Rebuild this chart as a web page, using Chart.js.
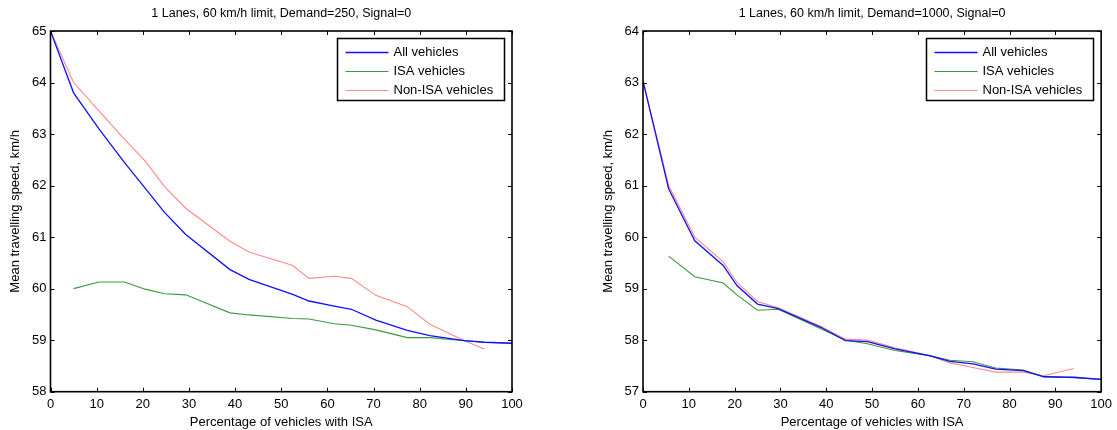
<!DOCTYPE html>
<html>
<head>
<meta charset="utf-8">
<script src="https://cdn.jsdelivr.net/npm/chart.js@4.4.1/dist/chart.umd.min.js"></script>
<style>
  body { margin: 0; background: #fff; }
  #wrap { position: relative; width: 1117px; height: 430px; }
  canvas { position: absolute; top: 0; }
</style>
</head>
<body>
<div id="wrap">
  <canvas id="chartLow" width="558" height="430" style="left:0"></canvas>
  <canvas id="chartHigh" width="559" height="430" style="left:558px"></canvas>
</div>
<script>
// Demand = 250 veh/h
const pctLow = [0, 5, 10.5, 16, 20.5, 24.7, 29.3, 38.9, 43, 52.5, 56, 61.5, 65.2, 70.5, 77.3, 82.2, 89.7, 94, 100];
const allLow = [65, 63.8, 63.1, 62.45, 61.95, 61.48, 61.05, 60.37, 60.18, 59.89, 59.76, 59.66, 59.6, 59.39, 59.19, 59.09, 58.99, 58.96, 58.94];
const isaLow = [null, 60.0, 60.13, 60.13, 59.99, 59.9, 59.88, 59.53, 59.49, 59.42, 59.41, 59.32, 59.29, 59.2, 59.05, 59.05, 58.99, 58.96, 58.94];
const nonIsaLow = [65, 64.0, 63.45, 62.9, 62.48, 61.98, 61.56, 60.92, 60.71, 60.45, 60.2, 60.24, 60.2, 59.87, 59.65, 59.31, 58.99, 58.83, null];

// Demand = 1000 veh/h
const pctHigh = [0, 5.6, 11.3, 17.5, 20.5, 25, 29.5, 38.8, 44.2, 49, 55, 62.5, 67, 72, 77, 83, 87.5, 94, 100];
const allHigh = [63.03, 60.94, 59.93, 59.45, 59.06, 58.7, 58.61, 58.25, 57.99, 57.97, 57.83, 57.7, 57.59, 57.54, 57.44, 57.41, 57.29, 57.28, 57.24];
const isaHigh = [null, 59.63, 59.23, 59.11, 58.88, 58.58, 58.6, 58.22, 58.0, 57.93, 57.8, 57.7, 57.61, 57.58, 57.46, 57.42, 57.29, 57.27, 57.24];
const nonIsaHigh = [63.03, 61.0, 60.0, 59.52, 59.12, 58.75, 58.63, 58.27, 58.02, 58.0, 57.85, 57.7, 57.56, 57.47, 57.38, 57.38, 57.31, 57.45, null];

const xTicks = [0, 10, 20, 30, 40, 50, 60, 70, 80, 90, 100];

const FONT = 'Arial, "Liberation Sans", sans-serif';

function toPoints(xs, ys) {
    return xs.map((x, i) => ({ x: x, y: ys[i] })).filter(p => p.y !== null);
}

// box round the plot area with inward ticks on all four sides
const frameTicks = {
    id: 'frameTicks',
    afterDatasetsDraw(chart) {
        const { ctx, chartArea: a, scales: { x, y } } = chart;
        const len = 4;
        ctx.save();
        ctx.strokeStyle = '#000';
        ctx.lineWidth = 1;
        ctx.beginPath();
        x.ticks.forEach(t => {
            const px = Math.round(x.getPixelForValue(t.value)) + 0.5;
            ctx.moveTo(px, a.bottom); ctx.lineTo(px, a.bottom - len);
            ctx.moveTo(px, a.top); ctx.lineTo(px, a.top + len);
        });
        y.ticks.forEach(t => {
            const py = Math.round(y.getPixelForValue(t.value)) + 0.5;
            ctx.moveTo(a.left, py); ctx.lineTo(a.left + len, py);
            ctx.moveTo(a.right, py); ctx.lineTo(a.right - len, py);
        });
        ctx.stroke();
        ctx.lineWidth = 1.6;
        ctx.strokeRect(a.left, a.top, a.right - a.left, a.bottom - a.top);
        ctx.restore();
    }
};

// legend in a box at the top right corner of the plot
const boxLegend = {
    id: 'boxLegend',
    afterDraw(chart) {
        const { ctx, chartArea: a } = chart;
        const w = 167, h = 62, rowH = 19;
        const x0 = Math.round(a.right - 8 - w) + 0.5;
        const y0 = Math.round(a.top + 7) + 0.5;
        ctx.save();
        ctx.fillStyle = '#fff';
        ctx.fillRect(x0, y0, w, h);
        ctx.strokeStyle = '#000';
        ctx.lineWidth = 1.5;
        ctx.strokeRect(x0, y0, w, h);
        ctx.font = '13px ' + FONT;
        ctx.textBaseline = 'middle';
        chart.data.datasets.forEach((ds, i) => {
            const cy = Math.round(y0 + 13.5 + i * rowH) + 0.5;
            ctx.strokeStyle = ds.borderColor;
            ctx.lineWidth = ds.borderWidth;
            ctx.beginPath();
            ctx.moveTo(x0 + 8, cy);
            ctx.lineTo(x0 + 51, cy);
            ctx.stroke();
            ctx.fillStyle = '#000';
            ctx.fillText(ds.label, x0 + 56, cy);
        });
        ctx.restore();
    }
};

function makeChart(id, title, xs, all, isa, nonIsa, yMin, yMax, yAxisWidth, yTitlePad) {
    return new Chart(document.getElementById(id), {
        type: 'line',
        data: {
            datasets: [
                { label: 'All vehicles', data: toPoints(xs, all), borderColor: '#1010ff', borderWidth: 1.3 },
                { label: 'ISA vehicles', data: toPoints(xs, isa), borderColor: '#3c9a3c', borderWidth: 1.1 },
                { label: 'Non-ISA vehicles', data: toPoints(xs, nonIsa), borderColor: '#ff8a8a', borderWidth: 1.1 }
            ]
        },
        options: {
            responsive: false,
            animation: false,
            layout: { padding: { top: 0, right: id === 'chartLow' ? 46 : 11, bottom: 0, left: 0 } },
            elements: { point: { radius: 0 }, line: { tension: 0 } },
            plugins: {
                legend: { display: false },
                tooltip: { enabled: false },
                title: {
                    display: true,
                    text: title,
                    fullSize: false,
                    color: '#000',
                    font: { family: FONT, size: 12.5, weight: 'normal' },
                    padding: { top: 6, bottom: 10 }
                }
            },
            scales: {
                x: {
                    type: 'linear',
                    min: 0,
                    max: 100,
                    afterBuildTicks: s => { s.ticks = xTicks.map(v => ({ value: v })); },
                    grid: { display: false, drawTicks: false },
                    border: { display: false },
                    ticks: { color: '#000', padding: 5, maxRotation: 0, font: { family: FONT, size: 13 } },
                    title: {
                        display: true,
                        text: 'Percentage of vehicles with ISA',
                        color: '#000',
                        font: { family: FONT, size: 13 },
                        padding: { top: 0, bottom: 0 }
                    },
                    afterFit: s => { s.height = 38.3; }
                },
                y: {
                    min: yMin,
                    max: yMax,
                    ticks: { stepSize: 1, color: '#000', padding: 4, font: { family: FONT, size: 13 } },
                    grid: { display: false, drawTicks: false },
                    border: { display: false },
                    title: {
                        display: true,
                        text: 'Mean travelling speed, km/h',
                        color: '#000',
                        font: { family: FONT, size: 13 },
                        padding: { top: yTitlePad, bottom: 0 }
                    },
                    afterFit: s => { s.width = yAxisWidth; }
                }
            }
        },
        plugins: [frameTicks, boxLegend]
    });
}

makeChart('chartLow', '1 Lanes, 60 km/h limit, Demand=250, Signal=0',
    pctLow, allLow, isaLow, nonIsaLow, 58, 65, 50.5, 8);
makeChart('chartHigh', '1 Lanes, 60 km/h limit, Demand=1000, Signal=0',
    pctHigh, allHigh, isaHigh, nonIsaHigh, 57, 64, 85, 43);
</script>
</body>
</html>
